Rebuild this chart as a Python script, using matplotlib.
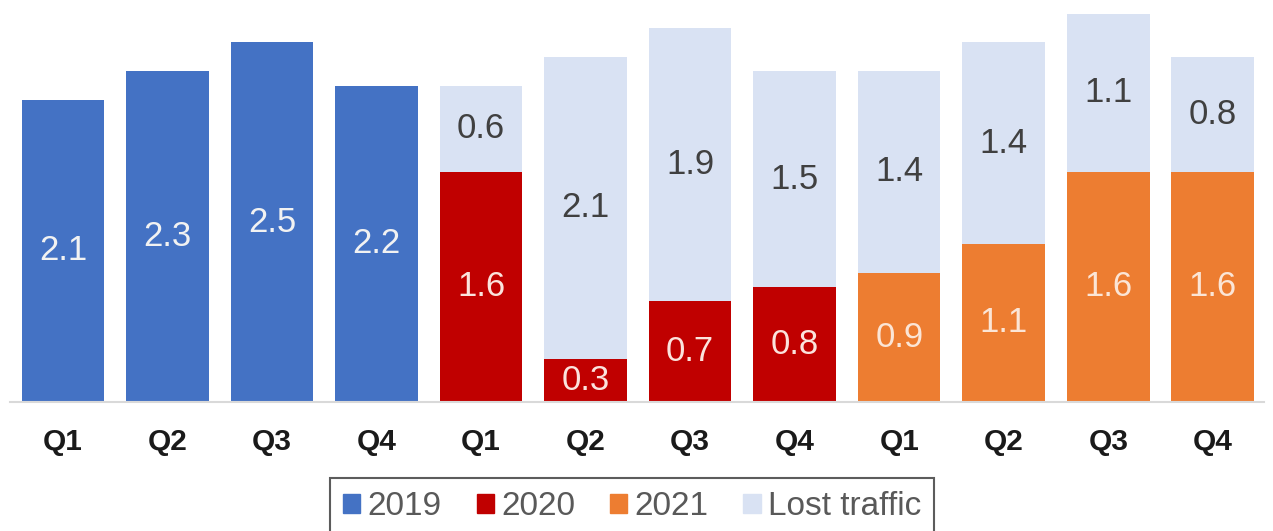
import matplotlib
matplotlib.use("Agg")
import matplotlib.pyplot as plt
from matplotlib.patches import Patch

quarters = ["Q1", "Q2", "Q3", "Q4"] * 3
years = ["2019"] * 4 + ["2020"] * 4 + ["2021"] * 4
traffic = [2.1, 2.3, 2.5, 2.2, 1.6, 0.3, 0.7, 0.8, 0.9, 1.1, 1.6, 1.6]
lost = [0, 0, 0, 0, 0.6, 2.1, 1.9, 1.5, 1.4, 1.4, 1.1, 0.8]

year_colors = {"2019": "#4472C4", "2020": "#C00000", "2021": "#ED7D31"}
year_text = {"2019": "#F2F2F2", "2020": "#FBE3DD", "2021": "#FBE5D6"}
lost_color = "#D9E2F3"

plt.rcParams["font.family"] = ["Liberation Sans", "DejaVu Sans"]

fig = plt.figure(figsize=(12.73, 5.31), dpi=100)
ax = fig.add_axes([10 / 1273, 1 - 402 / 531, 1254 / 1273, 402 / 531])

x = list(range(len(traffic)))
w = 0.79
cols = [year_colors[y] for y in years]
ax.bar(x, traffic, width=w, color=cols, zorder=2)
ax.bar(x, lost, width=w, bottom=traffic, color=lost_color, zorder=2)

for i in x:
    ax.text(i, traffic[i] / 2, f"{traffic[i]:.1f}", ha="center", va="center",
            fontsize=25, color=year_text[years[i]])
    if lost[i] > 0:
        ax.text(i, traffic[i] + lost[i] / 2, f"{lost[i]:.1f}", ha="center",
                va="center", fontsize=25, color="#404040")

ax.set_xlim(-0.507, 11.49)
ax.set_ylim(0, 2.795)
ax.set_xticks(x)
ax.set_xticklabels(quarters, fontsize=21.5, fontweight="bold", color="#1a1a1a")
ax.tick_params(axis="x", length=0, pad=19)
ax.set_yticks([])
for s in ["top", "right", "left"]:
    ax.spines[s].set_visible(False)
ax.spines["bottom"].set_color("#D9D9D9")
ax.spines["bottom"].set_linewidth(1.5)

handles = [Patch(color=year_colors["2019"], label="2019"),
           Patch(color=year_colors["2020"], label="2020"),
           Patch(color=year_colors["2021"], label="2021"),
           Patch(color=lost_color, label="Lost traffic")]
leg = fig.legend(handles=handles, loc="upper center",
                 bbox_to_anchor=(632 / 1273, 1 - 478 / 531), ncol=4,
                 fontsize=24, frameon=True, fancybox=False,
                 handlelength=0.52, handleheight=0.52, handletextpad=0.21,
                 columnspacing=1.05, borderpad=0.4, borderaxespad=0)
leg.get_frame().set_edgecolor("#333333")
leg.get_frame().set_linewidth(1.5)
for t in leg.get_texts():
    t.set_color("#595959")

fig.savefig("out.png", dpi=100)
